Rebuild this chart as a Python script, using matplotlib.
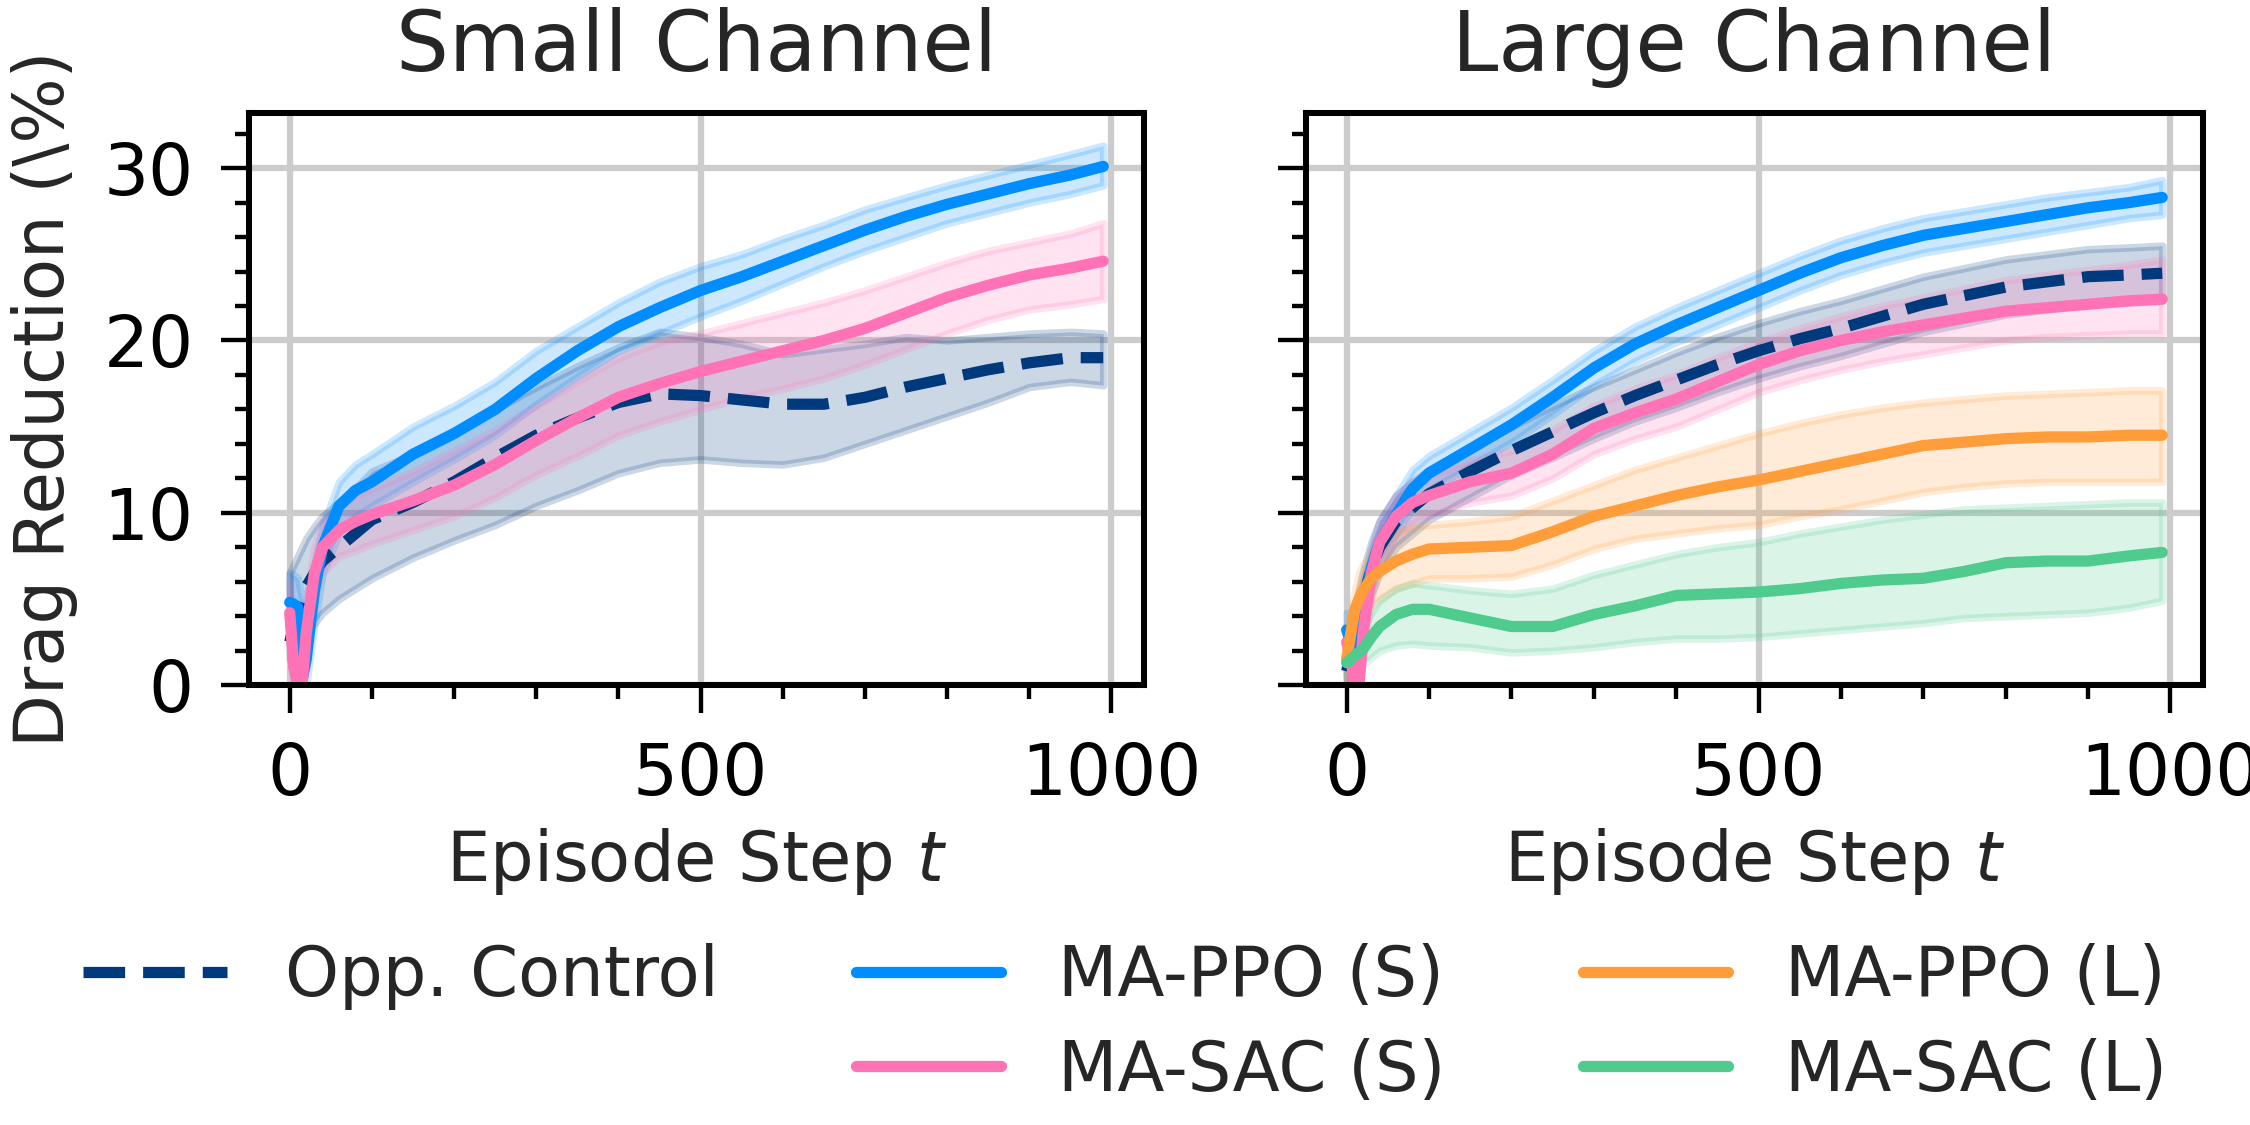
# Librairies externes
import matplotlib.pyplot as plt
from matplotlib.lines import Line2D
from matplotlib.ticker import MultipleLocator

# Pas de temps communs à toutes les courbes
PAS = [0, 5, 10, 15, 20, 30, 40, 60, 80, 100, 150, 200, 250, 300, 350, 400,
       450, 500, 550, 600, 650, 700, 750, 800, 850, 900, 950, 990]

# Petit canal : moyenne, borne haute, borne basse
OPP_S = [2.5, 3.5, 4.5, 5.2, 5.7, 6.5, 7.2, 8.0, 8.8, 9.6, 10.6, 11.8, 13.2, 14.5,
         15.5, 16.4, 16.9, 16.8, 16.55, 16.3, 16.3, 16.7, 17.3, 17.8, 18.3, 18.7, 19.0, 19.0]
OPP_S_HAUT = [6.5, 7.0, 7.5, 8.0, 8.5, 9.2, 9.8, 10.6, 11.4, 12.4, 13.4, 14.6, 16.0, 17.3,
              18.5, 19.6, 20.5, 20.2, 19.8, 19.2, 19.5, 19.8, 20.2, 20.0, 20.2, 20.4, 20.5, 20.4]
OPP_S_BAS = [1.5, 2.0, 2.5, 2.8, 3.0, 3.6, 4.2, 5.0, 5.6, 6.2, 7.4, 8.4, 9.3, 10.4,
             11.3, 12.3, 12.9, 13.1, 12.9, 12.8, 13.2, 14.0, 14.8, 15.6, 16.4, 17.3, 17.6, 17.4]

PPO_S = [4.8, 4.7, 4.5, 0.3, 1.5, 5.5, 8.0, 10.4, 11.3, 11.8, 13.4, 14.6, 16.0, 17.8,
         19.4, 20.8, 21.9, 22.9, 23.7, 24.6, 25.5, 26.4, 27.2, 27.9, 28.5, 29.1, 29.6, 30.1]
PPO_S_HAUT = [6.5, 6.4, 6.2, 5.0, 5.0, 7.0, 9.2, 11.8, 12.8, 13.4, 15.0, 16.2, 17.6, 19.4,
              20.8, 22.2, 23.4, 24.3, 25.0, 25.9, 26.7, 27.6, 28.3, 29.0, 29.6, 30.2, 30.8, 31.3]
PPO_S_BAS = [3.0, 2.8, 2.5, 0.0, 0.0, 3.5, 6.5, 8.8, 9.8, 10.4, 11.8, 13.1, 14.5, 16.3,
             17.9, 19.4, 20.4, 21.4, 22.3, 23.3, 24.3, 25.2, 26.0, 26.8, 27.4, 28.0, 28.5, 29.0]

SAC_S = [4.2, 1.0, 0.0, 0.0, 3.0, 6.5, 8.0, 9.0, 9.5, 9.9, 10.7, 11.6, 12.8, 14.2,
         15.5, 16.7, 17.5, 18.2, 18.8, 19.4, 20.0, 20.7, 21.6, 22.5, 23.2, 23.8, 24.2, 24.6]
SAC_S_HAUT = [6.0, 4.0, 2.0, 2.0, 5.0, 8.0, 9.5, 10.4, 11.0, 11.4, 12.4, 13.6, 14.8, 16.2,
              17.6, 19.0, 19.9, 20.4, 21.0, 21.6, 22.2, 22.9, 23.7, 24.5, 25.2, 25.7, 26.2, 26.8]
SAC_S_BAS = [2.5, 0.0, 0.0, 0.0, 1.0, 5.0, 6.5, 7.5, 7.8, 8.2, 9.0, 9.8, 10.9, 12.2,
             13.3, 14.5, 15.3, 16.0, 16.7, 17.2, 17.8, 18.6, 19.5, 20.4, 21.2, 21.8, 22.1, 22.4]

# Grand canal : moyenne, borne haute, borne basse
OPP_L = [0.8, 1.8, 2.8, 3.8, 5.0, 6.8, 8.0, 9.5, 10.3, 11.1, 12.4, 13.6, 14.7, 15.8,
         16.8, 17.7, 18.6, 19.4, 20.1, 20.7, 21.4, 22.1, 22.6, 23.1, 23.4, 23.7, 23.8, 23.9]
OPP_L_HAUT = [2.0, 3.2, 4.5, 5.5, 6.6, 8.3, 9.5, 11.0, 11.8, 12.5, 13.8, 15.0, 16.2, 17.3,
              18.3, 19.3, 20.2, 21.0, 21.7, 22.3, 23.0, 23.7, 24.2, 24.7, 25.0, 25.3, 25.4, 25.5]
OPP_L_BAS = [0.0, 0.5, 1.2, 2.2, 3.4, 5.3, 6.5, 8.0, 8.8, 9.6, 10.9, 12.2, 13.2, 14.3,
             15.3, 16.1, 17.0, 17.8, 18.5, 19.1, 19.8, 20.5, 21.0, 21.5, 21.8, 22.1, 22.2, 22.3]

PPO_SL = [3.2, 2.5, 1.0, 2.0, 4.5, 6.8, 8.3, 9.9, 11.4, 12.3, 13.7, 15.1, 16.7, 18.4,
          19.8, 20.9, 21.9, 22.9, 23.9, 24.8, 25.5, 26.1, 26.5, 26.9, 27.3, 27.7, 28.0, 28.3]
PPO_SL_HAUT = [4.2, 3.5, 2.5, 3.5, 6.0, 8.0, 9.5, 11.0, 12.5, 13.3, 14.7, 16.1, 17.7, 19.4,
               20.8, 21.9, 22.9, 23.9, 24.9, 25.8, 26.5, 27.1, 27.5, 27.9, 28.3, 28.6, 28.9, 29.3]
PPO_SL_BAS = [2.2, 1.5, 0.0, 0.5, 3.0, 5.6, 7.1, 8.8, 10.3, 11.3, 12.7, 14.1, 15.7, 17.4,
              18.8, 19.9, 20.9, 21.9, 22.9, 23.8, 24.5, 25.1, 25.5, 25.9, 26.3, 26.7, 27.1, 27.3]

SAC_SL = [2.5, 1.5, 0.0, 0.0, 3.0, 6.5, 8.3, 9.8, 10.6, 11.0, 11.8, 12.3, 13.4, 14.9,
          15.8, 16.6, 17.6, 18.6, 19.4, 20.0, 20.5, 20.9, 21.3, 21.7, 21.9, 22.1, 22.3, 22.4]
SAC_SL_HAUT = [3.5, 3.0, 1.5, 1.5, 4.5, 7.8, 9.5, 11.0, 11.8, 12.2, 13.0, 13.6, 14.8, 16.2,
               17.2, 18.0, 19.0, 19.9, 20.7, 21.4, 22.0, 22.5, 23.0, 23.5, 23.8, 24.1, 24.4, 24.7]
SAC_SL_BAS = [1.5, 0.0, 0.0, 0.0, 1.5, 5.0, 7.0, 8.5, 9.4, 9.8, 10.6, 11.0, 12.0, 13.4,
              14.3, 15.0, 16.0, 17.0, 17.7, 18.3, 18.8, 19.2, 19.6, 20.0, 20.2, 20.3, 20.4, 20.4]

PPO_L = [1.5, 3.0, 4.4, 5.0, 5.5, 6.2, 6.6, 7.2, 7.6, 7.9, 8.0, 8.1, 8.9, 9.8,
         10.4, 11.0, 11.5, 11.9, 12.4, 12.9, 13.4, 13.9, 14.1, 14.3, 14.4, 14.4, 14.5, 14.5]
PPO_L_HAUT = [2.5, 4.0, 5.5, 6.5, 7.0, 7.8, 8.3, 8.9, 9.2, 9.3, 9.5, 9.8, 10.7, 11.6,
              12.5, 13.2, 13.9, 14.6, 15.2, 15.7, 16.1, 16.4, 16.6, 16.8, 16.9, 17.0, 17.1, 17.1]
PPO_L_BAS = [0.5, 1.8, 3.0, 3.6, 4.0, 4.6, 5.0, 5.6, 5.9, 6.2, 6.2, 6.3, 7.0, 7.9,
             8.5, 8.8, 9.1, 9.3, 9.8, 10.2, 10.7, 11.2, 11.5, 11.7, 11.8, 11.8, 11.8, 11.8]

SAC_L = [1.3, 1.5, 1.7, 1.9, 2.1, 2.8, 3.4, 4.1, 4.4, 4.4, 3.9, 3.4, 3.4, 4.1,
         4.6, 5.2, 5.3, 5.4, 5.6, 5.9, 6.1, 6.2, 6.6, 7.1, 7.2, 7.2, 7.5, 7.7]
SAC_L_HAUT = [2.0, 2.4, 2.8, 3.1, 3.4, 4.2, 4.9, 5.6, 5.9, 5.8, 5.5, 5.3, 5.6, 6.4,
              7.0, 7.6, 8.0, 8.3, 8.8, 9.2, 9.6, 9.9, 10.2, 10.3, 10.4, 10.5, 10.6, 10.6]
SAC_L_BAS = [0.6, 0.7, 0.8, 1.0, 1.2, 1.6, 2.0, 2.3, 2.4, 2.3, 2.2, 1.9, 2.0, 2.2,
             2.5, 2.7, 2.7, 2.8, 3.0, 3.2, 3.4, 3.6, 3.9, 4.0, 4.1, 4.2, 4.5, 4.9]

# Étiquettes et titres
TITRES = ['Small Channel', 'Large Channel']
ETIQUETTES = ['Opp. Control', 'MA-PPO (S)', 'MA-SAC (S)', 'MA-PPO (L)', 'MA-SAC (L)']
ETIQUETTE_X = 'Episode Step $t$'
ETIQUETTE_Y = 'Drag Reduction (\\%)'

# Couleurs
COULEURS = ['#003a7d', '#008dff', '#ff73b6', '#ff9d3a', '#4ecb8d']

# Style général
plt.rcParams['font.family'] = 'DejaVu Sans'
plt.rcParams['text.color'] = '#262626'
plt.rcParams['axes.labelcolor'] = '#262626'


def tracer_courbe(ax, moyenne, haut, bas, couleur, tirets=False):
    """
    Trace une courbe moyenne avec sa bande d'incertitude.
    """
    ax.fill_between(PAS, bas, haut, color=couleur, alpha=0.2, linewidth=1.8)
    style = '--' if tirets else '-'
    ax.plot(PAS, moyenne, style, color=couleur, linewidth=2.7,
            solid_capstyle='round')


def styliser_axe(ax, titre):
    """
    Applique les ticks, la grille et les limites communes.
    """
    ax.set_xlim(-49.5, 1039.5)
    ax.set_ylim(0, 33.2)
    ax.set_xticks([0, 500, 1000])
    ax.set_yticks([0, 10, 20, 30])
    ax.xaxis.set_minor_locator(MultipleLocator(100))
    ax.yaxis.set_minor_locator(MultipleLocator(2))
    ax.tick_params(which='major', length=6.8, width=1.05, pad=6.5,
                   labelsize=17, colors='black')
    ax.tick_params(which='minor', length=3.3, width=1.05)
    ax.grid(True, which='major', color='#cccccc', linewidth=1.5)
    ax.set_axisbelow(True)
    for spine in ax.spines.values():
        spine.set_linewidth(1.45)
        spine.set_color('black')
    ax.set_title(titre, fontsize=20, pad=10)
    ax.set_xlabel(ETIQUETTE_X, fontsize=16.5)


# Créer la figure et les axes
fig = plt.figure(figsize=(7.5, 3.75), dpi=300)
ax1 = fig.add_axes([0.1107, 0.391, 0.3977, 0.5086])
ax2 = fig.add_axes([0.5804, 0.391, 0.3987, 0.5086], sharey=ax1)

# Petit canal
tracer_courbe(ax1, OPP_S, OPP_S_HAUT, OPP_S_BAS, COULEURS[0], tirets=True)
tracer_courbe(ax1, PPO_S, PPO_S_HAUT, PPO_S_BAS, COULEURS[1])
tracer_courbe(ax1, SAC_S, SAC_S_HAUT, SAC_S_BAS, COULEURS[2])

# Grand canal
tracer_courbe(ax2, OPP_L, OPP_L_HAUT, OPP_L_BAS, COULEURS[0], tirets=True)
tracer_courbe(ax2, PPO_SL, PPO_SL_HAUT, PPO_SL_BAS, COULEURS[1])
tracer_courbe(ax2, SAC_SL, SAC_SL_HAUT, SAC_SL_BAS, COULEURS[2])
tracer_courbe(ax2, PPO_L, PPO_L_HAUT, PPO_L_BAS, COULEURS[3])
tracer_courbe(ax2, SAC_L, SAC_L_HAUT, SAC_L_BAS, COULEURS[4])

styliser_axe(ax1, TITRES[0])
styliser_axe(ax2, TITRES[1])
ax1.set_ylabel(ETIQUETTE_Y, fontsize=16.5, labelpad=6)
ax2.tick_params(axis='y', labelleft=False)

# Légende commune sur trois colonnes
poignees = [
    Line2D([], [], color=COULEURS[0], linestyle='--', linewidth=2.7),
    Line2D([], [], color='none'),
    Line2D([], [], color=COULEURS[1], linewidth=2.7, solid_capstyle='round'),
    Line2D([], [], color=COULEURS[2], linewidth=2.7, solid_capstyle='round'),
    Line2D([], [], color=COULEURS[3], linewidth=2.7, solid_capstyle='round'),
    Line2D([], [], color=COULEURS[4], linewidth=2.7, solid_capstyle='round'),
]
noms = [ETIQUETTES[0], '', ETIQUETTES[1], ETIQUETTES[2], ETIQUETTES[3], ETIQUETTES[4]]
fig.legend(poignees, noms, loc='center', bbox_to_anchor=(0.5, 0.090), ncol=3,
           frameon=False, fontsize=16.5, handlelength=2.1, handletextpad=0.84,
           columnspacing=2.0, labelspacing=0.4)

fig.savefig('out.png', dpi=300)
